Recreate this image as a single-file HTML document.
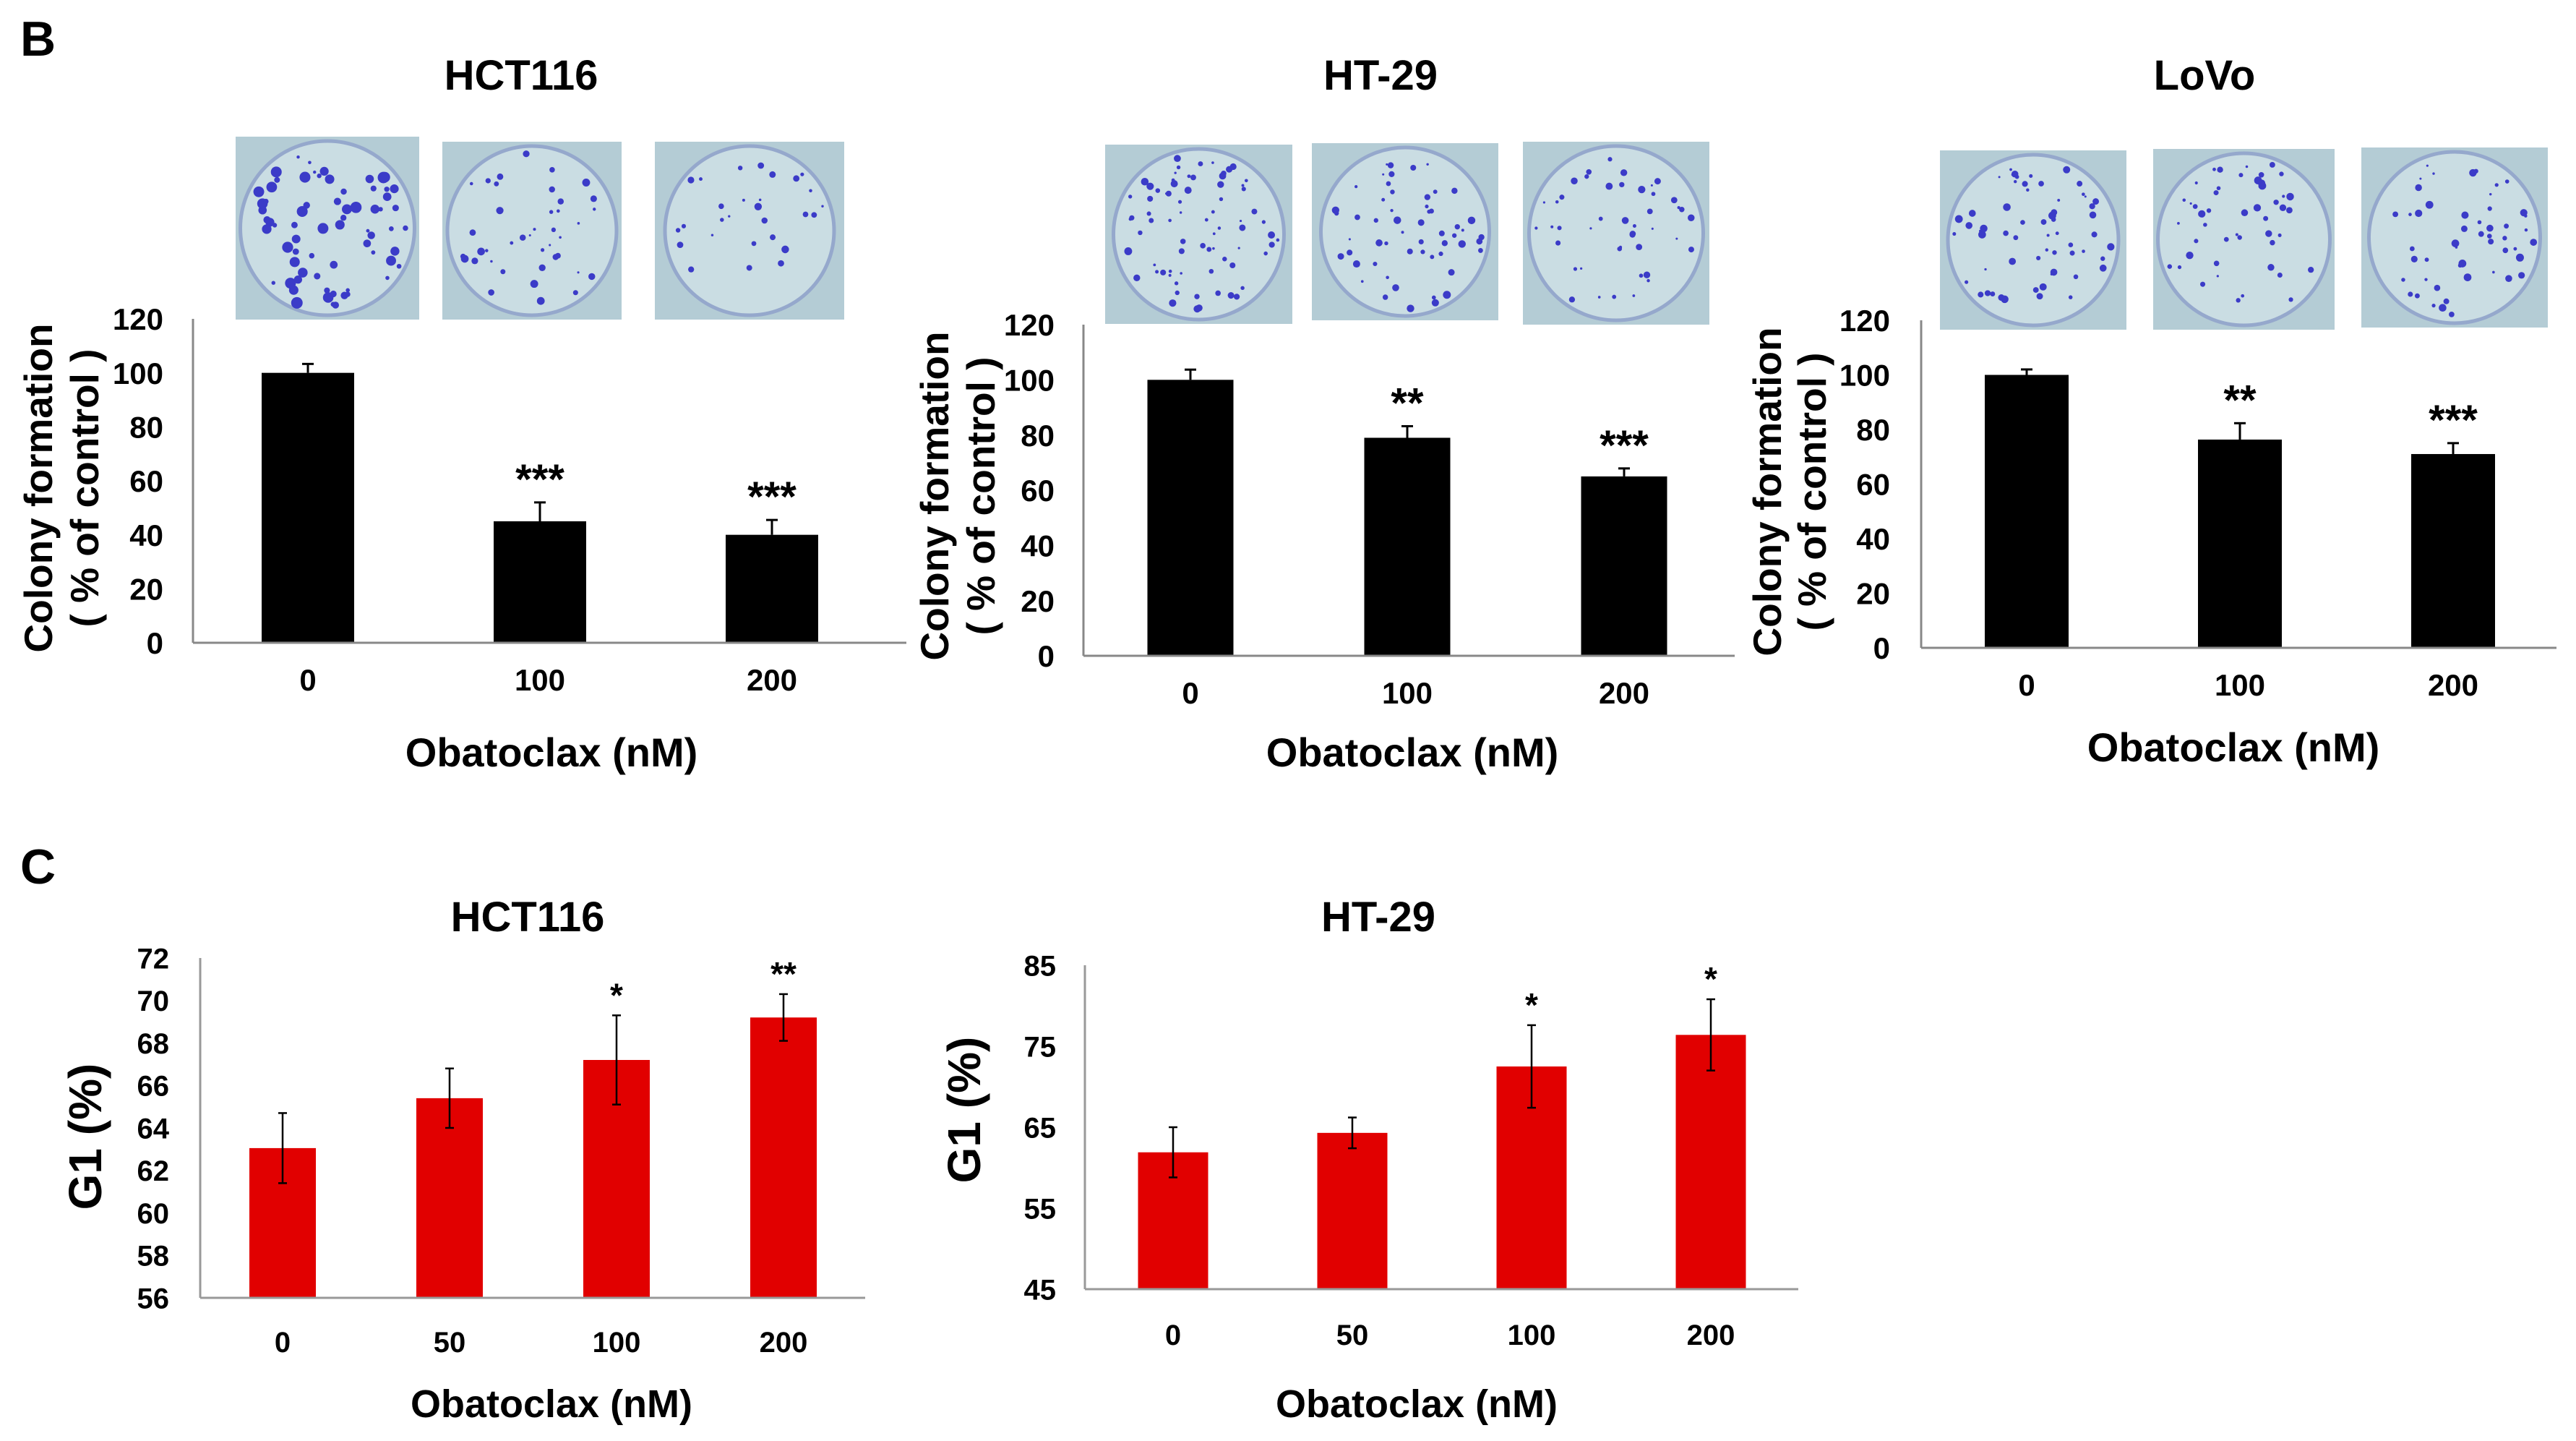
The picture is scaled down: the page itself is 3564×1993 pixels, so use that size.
<!DOCTYPE html>
<html><head><meta charset="utf-8"><style>
html,body{margin:0;padding:0;background:#fff}
svg{display:block;font-family:"Liberation Sans",Arial,sans-serif;font-weight:bold}
</style></head><body>
<svg id="fig" width="3564" height="1993" viewBox="0 0 3564 1993" xmlns="http://www.w3.org/2000/svg">
<rect width="3564" height="1993" fill="#fff"/>
<text x="28" y="77" font-size="68">B</text>
<text x="28" y="1222" font-size="68">C</text>
<g id="dishes"></g>
<g id="charts"></g>
</svg>
<script>
// ---- data ----
const colonyCategories = ["0","100","200"];
const hctColonyValues = [100, 45, 40];
const hctColonyErrors = [3.3, 7, 5.5];
const hctColonyStars = ["", "***", "***"];
const ht29ColonyValues = [100, 79, 65];
const ht29ColonyErrors = [3.7, 4.2, 2.9];
const ht29ColonyStars = ["", "**", "***"];
const lovoColonyValues = [100, 76.3, 71];
const lovoColonyErrors = [2, 6, 4];
const lovoColonyStars = ["", "**", "***"];
const colonyTicks = [0,20,40,60,80,100,120];

const g1Categories = ["0","50","100","200"];
const hctG1Values = [63.05, 65.4, 67.2, 69.2];
const hctG1Errors = [1.65, 1.4, 2.1, 1.1];
const hctG1Stars = ["", "", "*", "**"];
const hctG1Ticks = [56,58,60,62,64,66,68,70,72];
const ht29G1Values = [61.9, 64.3, 72.5, 76.4];
const ht29G1Errors = [3.1, 1.9, 5.1, 4.4];
const ht29G1Stars = ["", "", "*", "*"];
const ht29G1Ticks = [45,55,65,75,85];

const NS = "http://www.w3.org/2000/svg";
function mk(tag, attrs, parent){ const e=document.createElementNS(NS,tag); for(const k in attrs) e.setAttribute(k,attrs[k]); parent.appendChild(e); return e; }

function drawChart(o){
  const root=document.getElementById('charts');
  const g=mk('g',{},root);
  
  
  const ymin=o.ticks[0], ymax=o.ticks[o.ticks.length-1];
  const yS=v=>o.y0+(o.y1-o.y0)*(v-ymin)/(ymax-ymin);
  const xS=i=>o.c0+i*o.step;
  let t=mk('text',{x:o.titleX,y:o.titleY,'font-size':o.titleSize,'text-anchor':'middle'},g); t.textContent=o.title;
  
  
  o.values.forEach((v,i)=>{
    const top=yS(v), cx=xS(i);
    const r=mk('rect',{x:cx-o.bw/2,y:top,width:o.bw,height:o.y0-top,fill:o.color},g);
    
    
    const et=yS(v+o.errors[i]);
    const eb=o.lowerErr? yS(v-o.errors[i]) : top;
    const l=mk('line',{x1:cx,x2:cx,y1:et,y2:eb,stroke:'#000','stroke-width':o.ew},g);
    
    
    mk('line',{x1:cx-o.cap,x2:cx+o.cap,y1:et,y2:et,stroke:'#000','stroke-width':o.ew},g);
    if(o.lowerErr) mk('line',{x1:cx-o.cap,x2:cx+o.cap,y1:eb,y2:eb,stroke:'#000','stroke-width':o.ew},g);
    if(o.stars[i]){
      const s=mk('text',{x:cx,y:et-o.starGap,'font-size':o.starSize,'text-anchor':'middle'},g); s.textContent=o.stars[i];
      
      
    }
    const xl=mk('text',{x:cx,y:o.xLabY,'font-size':o.tickSize,'text-anchor':'middle'},g); xl.textContent=o.cats[i];
    
    
  });
  const ya=mk('line',{x1:o.ax,x2:o.ax,y1:o.y1,y2:o.y0,stroke:o.axisColor,'stroke-width':3},g);
  
  
  const xa=mk('line',{x1:o.ax,x2:o.axEnd,y1:o.y0,y2:o.y0,stroke:o.axisColor,'stroke-width':3},g);
  
  
  o.ticks.forEach(tv=>{
    const tl=mk('text',{x:o.tickRight,y:yS(tv)+o.tickSize*0.36,'font-size':o.tickSize,'text-anchor':'end'},g); tl.textContent=tv;
    
    
  });
  const xt=mk('text',{x:o.xTitleX,y:o.xTitleY,'font-size':o.xTitleSize,'text-anchor':'middle'},g); xt.textContent='Obatoclax (nM)';
  
  
  o.yTitle.forEach((line,k)=>{
    const yt=mk('text',{x:0,y:0,'font-size':o.yTitleSize,'text-anchor':'middle',transform:`translate(${line[1]},${o.yTitleY}) rotate(-90)`},g);
    yt.textContent=line[0];
    
    
  });
}
const bBase={cats:colonyCategories,ticks:colonyTicks,color:'#000',bw:120,ew:3,cap:8,starGap:12,starSize:58,tickSize:42,titleSize:58,xTitleSize:56,yTitleSize:55,axisColor:'#888',lowerErr:false};
drawChart(Object.assign({},bBase,{name:'hct116-colony-chart',title:'HCT116',titleX:721,titleY:124,values:hctColonyValues,errors:hctColonyErrors,stars:hctColonyStars,
  y0:889,y1:441,ax:267,axEnd:1254,c0:426,step:321,bw:128,tickRight:226,xLabY:955,xTitleX:763,xTitleY:1060,yTitle:[["Colony formation",72],["( % of control )",136]],yTitleY:675}));
drawChart(Object.assign({},bBase,{name:'ht29-colony-chart',title:'HT-29',titleX:1910,titleY:124,values:ht29ColonyValues,errors:ht29ColonyErrors,stars:ht29ColonyStars,
  y0:907,y1:449,ax:1499,axEnd:2400,c0:1647,step:300,bw:119,tickRight:1459,xLabY:973,xTitleX:1954,xTitleY:1060,yTitle:[["Colony formation",1312],["( % of control )",1376]],yTitleY:686}));
drawChart(Object.assign({},bBase,{name:'lovo-colony-chart',title:'LoVo',titleX:3050,titleY:124,values:lovoColonyValues,errors:lovoColonyErrors,stars:lovoColonyStars,
  y0:896,y1:443,ax:2658,axEnd:3537,c0:2804,step:295,bw:116,tickRight:2615,xLabY:962,xTitleX:3090,xTitleY:1053,yTitle:[["Colony formation",2464],["( % of control )",2526]],yTitleY:680}));
const cBase={color:'#e10000',ew:2.5,cap:6,starGap:12,starSize:46,tickSize:40,titleSize:58,xTitleSize:54,yTitleSize:64,axisColor:'#999',lowerErr:true};
drawChart(Object.assign({},cBase,{name:'hct116-g1-chart',title:'HCT116',titleX:730,titleY:1288,cats:g1Categories,ticks:hctG1Ticks,values:hctG1Values,errors:hctG1Errors,stars:hctG1Stars,
  y0:1795,y1:1325,ax:277,axEnd:1197,c0:391,step:231,bw:92,tickRight:234,xLabY:1870,xTitleX:763,xTitleY:1960,yTitle:[["G1  (%)",140]],yTitleY:1572}));
drawChart(Object.assign({},cBase,{name:'ht29-g1-chart',title:'HT-29',titleX:1907,titleY:1288,cats:g1Categories,ticks:ht29G1Ticks,values:ht29G1Values,errors:ht29G1Errors,stars:ht29G1Stars,
  y0:1783,y1:1335,ax:1501,axEnd:2488,c0:1623,step:248,bw:97,tickRight:1461,xLabY:1860,xTitleX:1960,xTitleY:1960,yTitle:[["G1  (%)",1356]],yTitleY:1535}));

// ---- dish photos (decorative) ----
const dishRects=[[326,189,254,253,70],[612,196,248,246,40],[906,196,262,246,28],
 [1529,200,259,248,75],[1815,198,258,245,55],[2107,196,258,253,45],
 [2684,208,258,248,60],[2979,206,251,250,48],[3267,204,258,249,50]];
let seed=7; function rnd(){seed=(seed*16807)%2147483647;return seed/2147483647;}
const dg=document.getElementById('dishes');
dishRects.forEach((d,k)=>{
  const [x,y,w,h,n]=d;
  const g=mk('g',{},dg);
  
  
  mk('rect',{x:x,y:y,width:w,height:h,fill:'#b4ccd5'},g);
  const cx=x+w/2, cy=y+h/2, r=Math.min(w,h)/2-6;
  mk('circle',{cx:cx,cy:cy,r:r,fill:'#cadde3',stroke:'#95a8cc','stroke-width':5},g);
  for(let i=0;i<n;i++){
    const a=rnd()*Math.PI*2, rr=Math.sqrt(rnd())*(r-8);
    const sz=k%3===0&&k<3?2+rnd()*6:1.5+rnd()*4;
    mk('circle',{cx:cx+Math.cos(a)*rr,cy:cy+Math.sin(a)*rr,r:sz,fill:'#3b3bc8'},g);
  }
});
</script>
</body></html>
